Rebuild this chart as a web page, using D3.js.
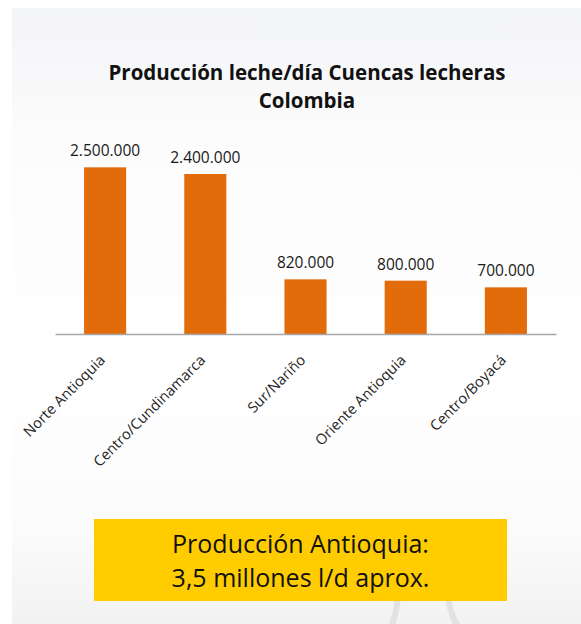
<!DOCTYPE html>
<html>
<head>
<meta charset="utf-8">
<script src="https://cdn.jsdelivr.net/npm/d3@7/dist/d3.min.js"></script>
<style>
  html, body { margin: 0; padding: 0; background: #ffffff; }
  svg { display: block; font-family: "Open Sans", "Noto Sans", sans-serif; }
</style>
</head>
<body>
<div id="chart"></div>
<script>
// datos del gráfico
var cuencas = ['Norte Antioquia', 'Centro/Cundinamarca', 'Sur/Nariño', 'Oriente Antioquia', 'Centro/Boyacá'];
var litrosDia = [2500000, 2400000, 820000, 800000, 700000];
var titulo = ['Producción leche/día Cuencas lecheras', 'Colombia'];
var nota = ['Producción Antioquia:', '3,5 millones l/d aprox.'];

var W = 581, H = 624;
var opt = {
  panel: { x: 12, y: 8 },
  plot: { left: 55, right: 556, base: 334, top: 134 },
  barColor: '#e36c0a',
  axisColor: '#a6a6a6',
  box: { x: 94, y: 519, w: 413, h: 82, color: '#ffcc00' }
};

var fmt = function(v){ return d3.format(',')(v).replace(/,/g, '.'); };

var svg = d3.select('#chart').append('svg')
  .attr('width', W)
  .attr('height', H);

var defs = svg.append('defs');
var grad = defs.append('linearGradient')
  .attr('id', 'fondo')
  .attr('x1', '0%').attr('y1', '0%')
  .attr('x2', '0%').attr('y2', '100%');
grad.append('stop').attr('offset', '0%').attr('stop-color', '#f3f4f6');
grad.append('stop').attr('offset', '22%').attr('stop-color', '#fcfcfd');
grad.append('stop').attr('offset', '60%').attr('stop-color', '#ffffff');
grad.append('stop').attr('offset', '85%').attr('stop-color', '#fbfbfb');
grad.append('stop').attr('offset', '100%').attr('stop-color', '#f2f2f2');

// fondo de la diapositiva
svg.append('rect')
  .attr('x', opt.panel.x)
  .attr('y', opt.panel.y)
  .attr('width', W - opt.panel.x)
  .attr('height', H - opt.panel.y)
  .attr('fill', 'url(#fondo)');

// adorno gris detrás de la caja
svg.append('path')
  .attr('d', 'M389,632 Q398,612 398,592 Q398,570 423,566 Q448,570 448,592 Q448,612 461,632')
  .attr('fill', 'none')
  .attr('stroke', '#e2e2e2')
  .attr('stroke-width', 6);

// título
svg.append('g').selectAll('text')
  .data(titulo)
  .join('text')
  .attr('x', 307)
  .attr('y', function(d, i){ return 80 + i * 28; })
  .attr('text-anchor', 'middle')
  .attr('font-size', '20.5px')
  .attr('font-weight', 'bold')
  .attr('fill', '#111111')
  .text(function(d){ return d; });

var x = d3.scaleBand()
  .domain(cuencas)
  .range([opt.plot.left, opt.plot.right])
  .paddingInner(0.58)
  .paddingOuter(0.29);

var y = d3.scaleLinear()
  .domain([0, 3000000])
  .range([opt.plot.base, opt.plot.top]);

var datos = cuencas.map(function(c, i){ return { cuenca: c, valor: litrosDia[i] }; });

// barras
svg.append('g').selectAll('rect')
  .data(datos)
  .join('rect')
  .attr('x', function(d){ return x(d.cuenca); })
  .attr('y', function(d){ return y(d.valor); })
  .attr('width', x.bandwidth())
  .attr('height', function(d){ return y(0) - y(d.valor); })
  .attr('fill', opt.barColor);

// etiquetas de valor
svg.append('g').selectAll('text')
  .data(datos)
  .join('text')
  .attr('x', function(d){ return x(d.cuenca) + x.bandwidth() / 2; })
  .attr('y', function(d){ return y(d.valor) - 11; })
  .attr('text-anchor', 'middle')
  .attr('font-size', '15.5px')
  .attr('fill', '#1a1a1a')
  .text(function(d){ return fmt(d.valor); });

// eje x
var axis = svg.append('g')
  .attr('transform', 'translate(0,' + opt.plot.base + ')')
  .call(d3.axisBottom(x).tickSize(0).tickSizeOuter(0).tickPadding(0));
axis.select('.domain')
  .attr('stroke', opt.axisColor)
  .attr('stroke-width', 1.5);
axis.selectAll('.tick text')
  .attr('font-family', '"Open Sans", sans-serif')
  .attr('font-size', '14.6px')
  .attr('fill', '#262626')
  .attr('text-anchor', 'end')
  .attr('dy', 0)
  .attr('transform', 'translate(1,27) rotate(-45)');

// caja de nota
var caja = svg.append('g');
caja.append('rect')
  .attr('x', opt.box.x)
  .attr('y', opt.box.y)
  .attr('width', opt.box.w)
  .attr('height', opt.box.h)
  .attr('fill', opt.box.color);
caja.selectAll('text')
  .data(nota)
  .join('text')
  .attr('x', opt.box.x + opt.box.w / 2)
  .attr('y', function(d, i){ return 553 + i * 34; })
  .attr('text-anchor', 'middle')
  .attr('font-size', '25px')
  .attr('fill', '#111111')
  .text(function(d){ return d; });
</script>
</body>
</html>
